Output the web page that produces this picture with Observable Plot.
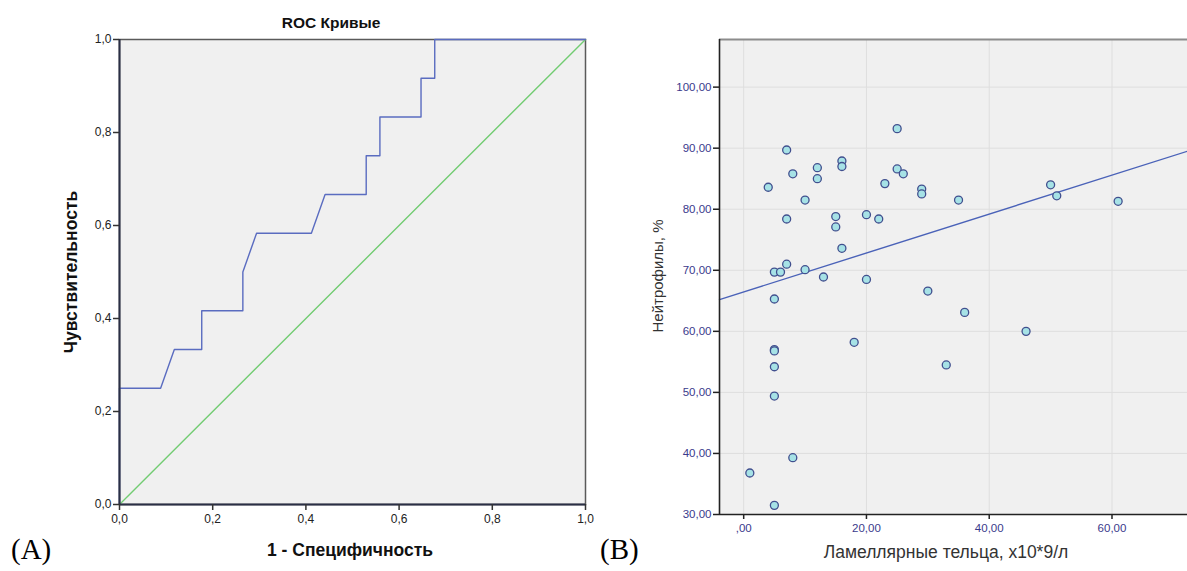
<!DOCTYPE html>
<html>
<head>
<meta charset="utf-8">
<script src="https://cdn.jsdelivr.net/npm/d3@7"></script>
<script src="https://cdn.jsdelivr.net/npm/@observablehq/plot@0.6"></script>
<style>
  body { margin: 0; background: #fff; }
  #wrap { position: relative; width: 1187px; height: 571px; overflow: hidden; font-family: "Liberation Sans", Arial, sans-serif; }
  .panel { position: absolute; top: 0; }
  .lbl { position: absolute; white-space: nowrap; }
  .bold { font-weight: bold; color: #111; font-size: 17.5px; }
  .tag { font-family: "Liberation Serif", "Times New Roman", serif; font-size: 29px; color: #000; }
  .rot { transform: translate(-50%, -50%) rotate(-90deg); }
  .ctr { transform: translate(-50%, -50%); }
</style>
</head>
<body>
<div id="wrap"></div>
<script>
// ---------- Panel A: ROC curve ----------
const rocFpr = [0, 0, 3/34, 4/34, 6/34, 6/34, 9/34, 9/34, 10/34, 14/34, 15/34, 18/34, 18/34, 19/34, 19/34, 22/34, 22/34, 23/34, 23/34, 1];
const rocTpr = [0, 3/12, 3/12, 4/12, 4/12, 5/12, 5/12, 6/12, 7/12, 7/12, 8/12, 8/12, 9/12, 9/12, 10/12, 10/12, 11/12, 11/12, 1, 1];
const diagX = [0, 1];
const diagY = [0, 1];
const rocTicks = [0, 0.2, 0.4, 0.6, 0.8, 1.0];

// ---------- Panel B: scatter ----------
const lamellar = [25, 7, 8, 4, 12, 12, 16, 16, 25, 26, 23, 29, 29, 10, 7, 15, 15, 20, 22, 16, 7, 5, 6, 10, 13, 20, 30,
                  5, 5, 5, 5, 5, 18, 33, 36, 8, 1, 5, 35, 50, 51, 61, 46];
const neutro   = [93.2, 89.7, 85.8, 83.6, 86.8, 85.0, 87.9, 87.0, 86.6, 85.8, 84.2, 83.3, 82.5, 81.5, 78.4, 78.8, 77.1, 79.1, 78.4, 73.6, 71.0, 69.7, 69.7, 70.1, 68.9, 68.5, 66.6,
                  65.3, 57.0, 56.8, 54.2, 49.4, 58.2, 54.5, 63.1, 39.3, 36.8, 31.5, 81.5, 84.0, 82.2, 81.3, 60.0];
const fitX = [-3.94, 72.3];
const fitY = [65.2, 89.5];
const xTicksB = [0, 20, 40, 60];
const yTicksB = [30, 40, 50, 60, 70, 80, 90, 100];
const xDomainB = [-3.94, 72.3];
const yDomainB = [30, 107.8];

const fmt1 = d => d.toFixed(1).replace(".", ",");
const fmt2 = d => { const s = d.toFixed(2).replace(".", ","); return s.startsWith("0,") ? s.slice(1) : s; };

const rocData = rocFpr.map((x, i) => ({x, y: rocTpr[i]}));
const diagData = diagX.map((x, i) => ({x, y: diagY[i]}));
const pts = lamellar.map((x, i) => ({x, y: neutro[i]}));
const fitData = fitX.map((x, i) => ({x, y: fitY[i]}));

const plotA = Plot.plot({
  width: 600, height: 571,
  marginLeft: 119, marginRight: 15, marginTop: 39, marginBottom: 67,
  x: {domain: [0, 1], axis: null},
  y: {domain: [0, 1], axis: null},
  style: {fontFamily: "Liberation Sans, Arial, sans-serif", background: "transparent"},
  marks: [
    Plot.frame({fill: "#f0f0f0", stroke: "#5a5a5a", strokeWidth: 1.5}),
    Plot.line(diagData, {x: "x", y: "y", stroke: "#72cc72", strokeWidth: 1.4}),
    Plot.line(rocData, {x: "x", y: "y", stroke: "#5a6cc0", strokeWidth: 1.4}),
    Plot.ruleX([0], {stroke: "#2a2f45", strokeWidth: 2}),
    Plot.ruleY([0], {stroke: "#2a2f45", strokeWidth: 2}),
    Plot.axisX({ticks: rocTicks, tickFormat: fmt1, tickSize: 6, tickPadding: 4, fontSize: 12, color: "#222", label: null, stroke: "#333", strokeWidth: 1.5}),
    Plot.axisY({ticks: rocTicks, tickFormat: fmt1, tickSize: 6, tickPadding: 2, fontSize: 12, color: "#222", label: null, stroke: "#333", strokeWidth: 1.5})
  ]
});

const plotB = Plot.plot({
  width: 567, height: 571,
  marginLeft: 99, marginRight: 0, marginTop: 39, marginBottom: 57,
  x: {domain: xDomainB, axis: null},
  y: {domain: yDomainB, axis: null},
  style: {fontFamily: "Liberation Sans, Arial, sans-serif", background: "transparent"},
  marks: [
    Plot.frame({fill: "#f0f0f0", stroke: "none"}),
    Plot.gridX({ticks: xTicksB, stroke: "#dedede", strokeOpacity: 1, strokeWidth: 1}),
    Plot.gridY({ticks: yTicksB, stroke: "#dedede", strokeOpacity: 1, strokeWidth: 1}),
    Plot.ruleY([yDomainB[1]], {stroke: "#8c8c8c", strokeWidth: 2}),
    Plot.line(fitData, {x: "x", y: "y", stroke: "#4a62b8", strokeWidth: 1.4}),
    Plot.dot(pts, {x: "x", y: "y", r: 4, fill: "#a6e2e6", stroke: "#414f8e", strokeWidth: 1.3}),
    Plot.ruleX([xDomainB[0]], {stroke: "#222", strokeWidth: 1.6}),
    Plot.ruleY([yDomainB[0]], {stroke: "#222", strokeWidth: 1.6}),
    Plot.axisX({ticks: xTicksB, tickFormat: fmt2, tickSize: 5, tickPadding: 4, fontSize: 11.5, color: "#3a3a8c", label: null, stroke: "#222", strokeWidth: 1.5}),
    Plot.axisY({ticks: yTicksB, tickFormat: fmt2, tickSize: 6, tickPadding: 2, fontSize: 11.5, color: "#3a3a8c", label: null, stroke: "#222", strokeWidth: 1.5})
  ]
});

const wrap = document.getElementById("wrap");
const pa = document.createElement("div"); pa.className = "panel"; pa.style.left = "0px"; pa.appendChild(plotA); wrap.appendChild(pa);
const pb = document.createElement("div"); pb.className = "panel"; pb.style.left = "620px"; pb.appendChild(plotB); wrap.appendChild(pb);

function addLabel(text, cls, left, top, extra) {
  const d = document.createElement("div");
  d.className = "lbl " + cls;
  d.textContent = text;
  d.style.left = left + "px"; d.style.top = top + "px";
  if (extra) d.style.cssText += extra;
  wrap.appendChild(d);
}
addLabel("ROC Кривые", "bold ctr", 331, 23, "font-size:15.5px;");
addLabel("1 - Специфичность", "bold ctr", 350, 550);
addLabel("Чувствительность", "bold rot", 71, 272);
addLabel("(A)", "tag", 11, 533);
addLabel("(B)", "tag", 600, 533);
addLabel("Ламеллярные тельца, х10*9/л", "ctr", 946, 552, "font-size:17.5px;color:#333;");
addLabel("Нейтрофилы, %", "rot", 657, 276, "font-size:15px;color:#333;");
</script>
</body>
</html>
